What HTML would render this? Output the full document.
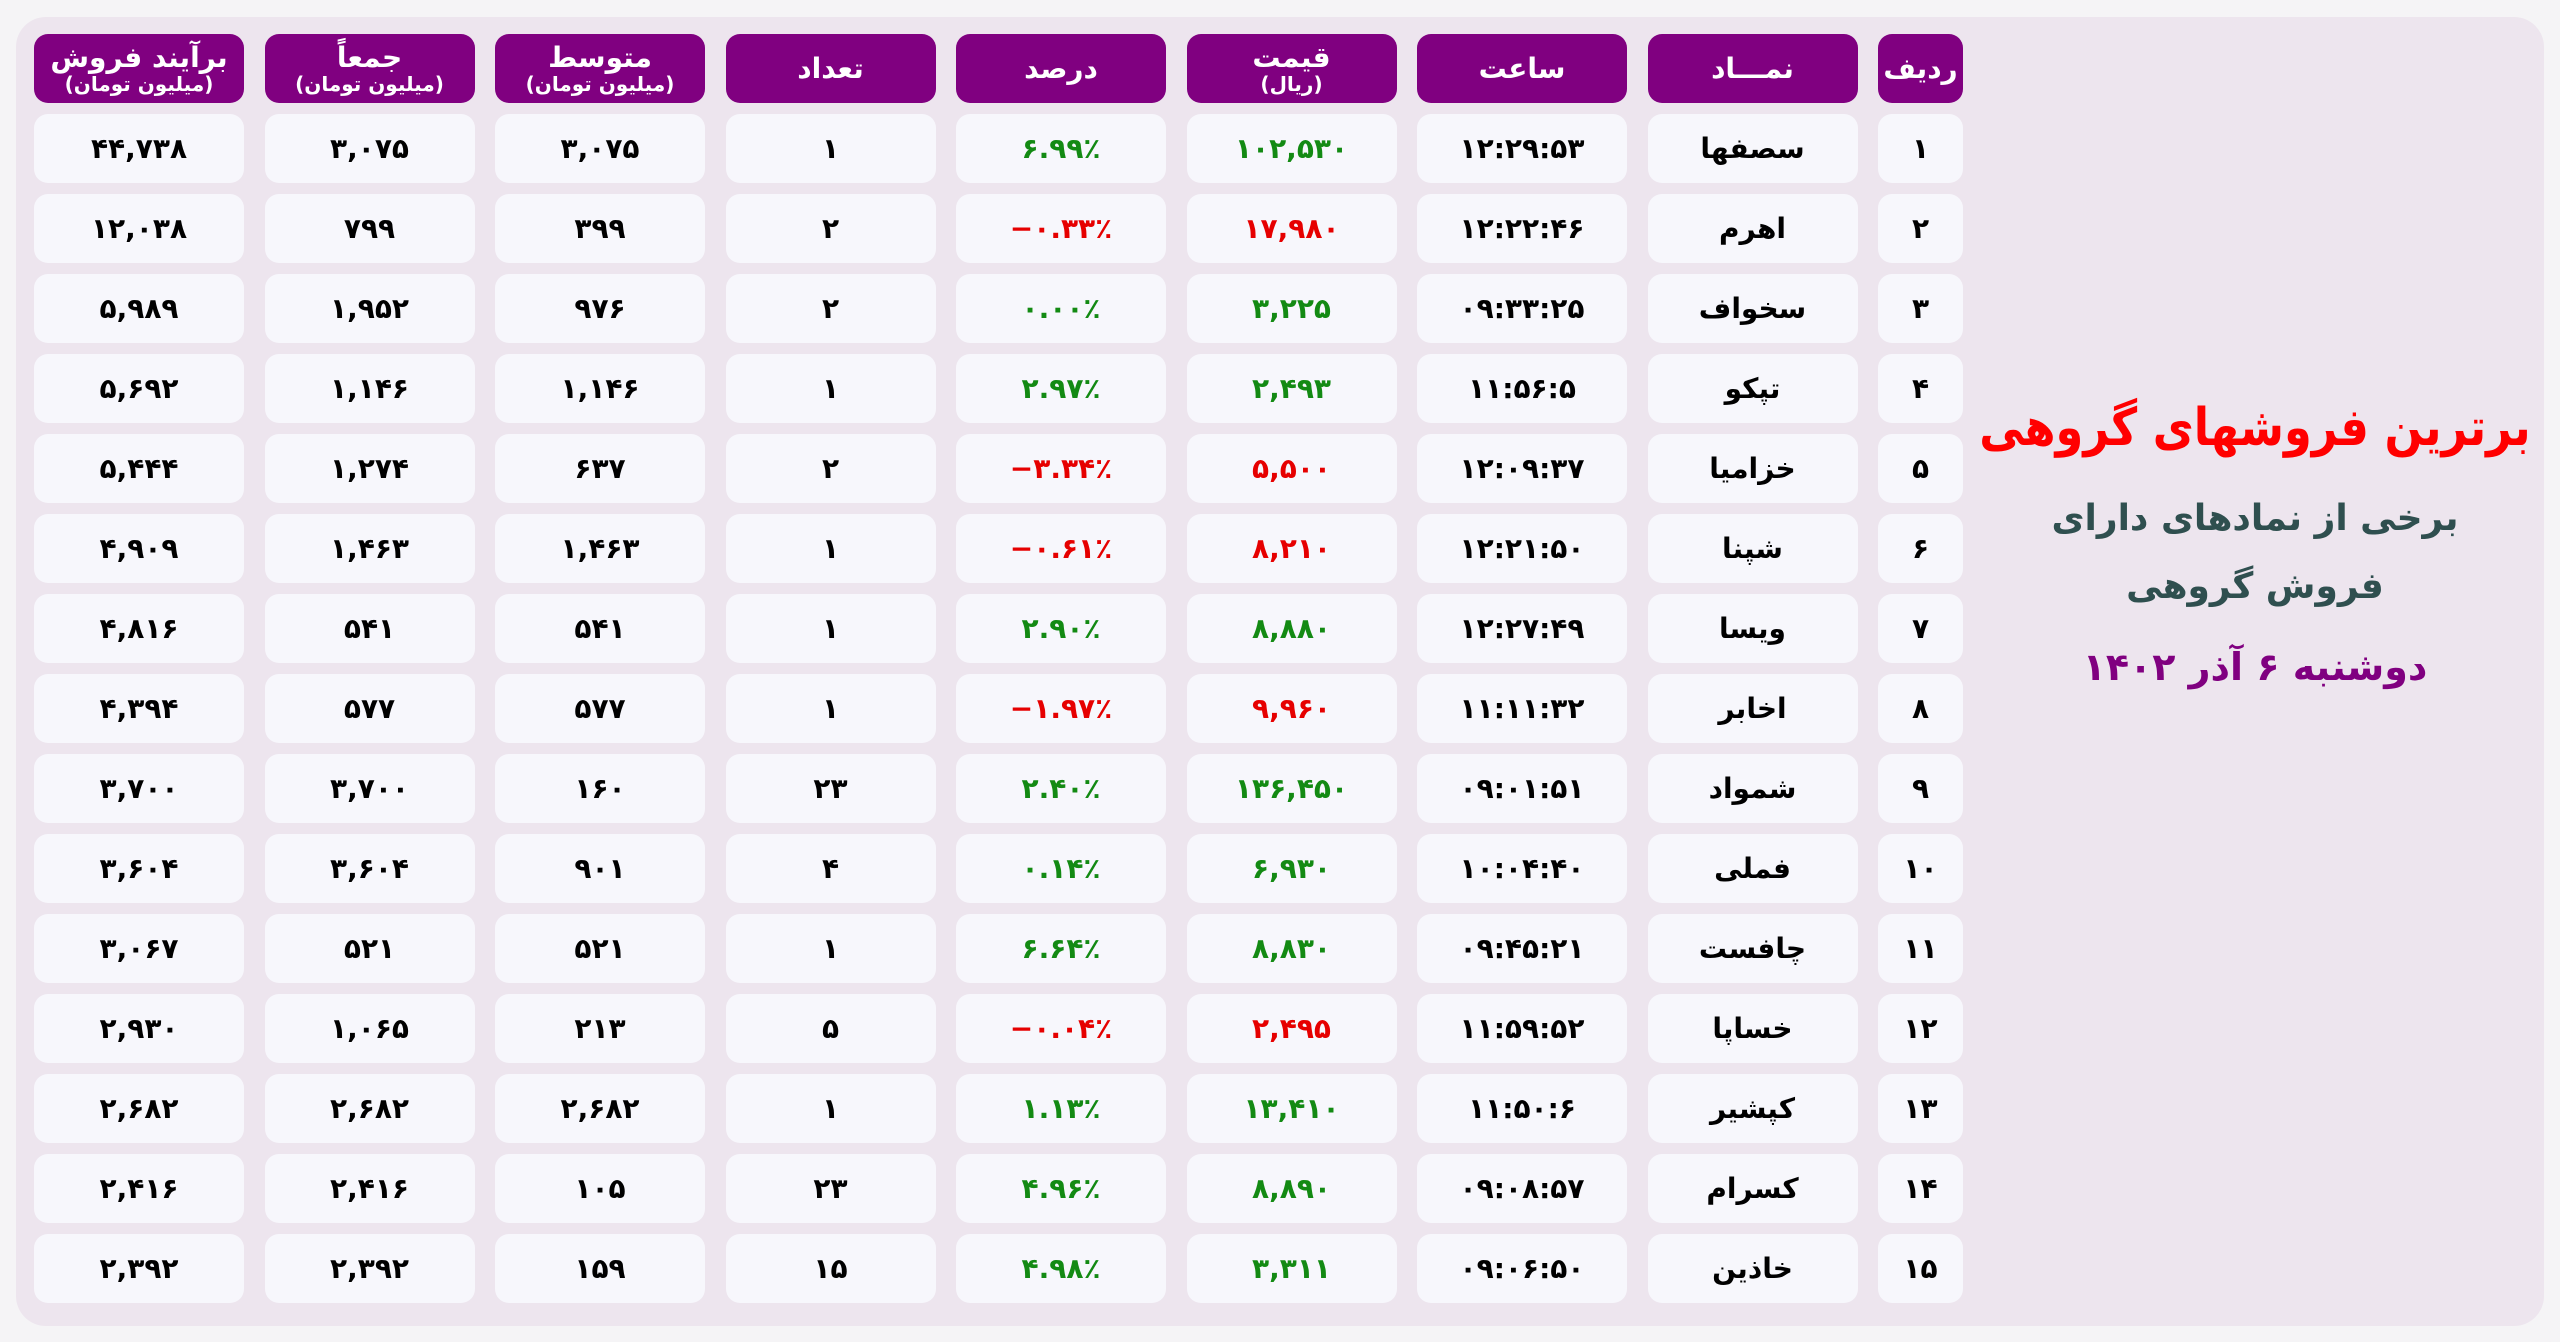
<!DOCTYPE html>
<html><head><meta charset="utf-8">
<style>
html,body{margin:0;padding:0;}
body{width:2560px;height:1342px;background:#f5f4f6;position:relative;overflow:hidden;font-family:"DejaVu Sans","Liberation Sans",sans-serif;}
.panel{position:absolute;left:16px;top:17px;width:2528px;height:1309px;background:#ede5ee;border-radius:30px;}
.grid{position:absolute;left:34px;top:34px;width:1929px;display:grid;direction:rtl;grid-template-columns:85px repeat(8,210px);column-gap:20.5px;grid-template-rows:repeat(16,69px);row-gap:11px;}
.grid div{background:#f7f7fc;border-radius:14px;display:flex;align-items:center;justify-content:center;font-weight:bold;font-size:28px;color:#000;text-align:center;}
.grid .h{background:#800080;color:#fff;font-size:28px;line-height:1;flex-direction:column;}
.grid .h small{font-size:20px;display:block;margin-top:2px;}
.grid .g{color:#138a13;}
.grid .r{color:#e60000;}
.side{position:absolute;left:1975px;width:560px;text-align:center;direction:rtl;font-weight:bold;white-space:nowrap;}
</style></head><body>
<div class="panel"></div>
<div class="grid">
<div class="h">ردیف</div><div class="h">نمـــاد</div><div class="h">ساعت</div><div class="h">قیمت<small>(ریال)</small></div><div class="h">درصد</div><div class="h">تعداد</div><div class="h">متوسط<small>(میلیون تومان)</small></div><div class="h">جمعاً<small>(میلیون تومان)</small></div><div class="h">برآیند فروش<small>(میلیون تومان)</small></div>

<div>۱</div><div>سصفها</div><div dir="ltr">۱۲:۲۹:۵۳</div><div class="g">۱۰۲,۵۳۰</div><div class="g" dir="ltr">۶.۹۹٪</div><div>۱</div><div>۳,۰۷۵</div><div>۳,۰۷۵</div><div>۴۴,۷۳۸</div>
<div>۲</div><div>اهرم</div><div dir="ltr">۱۲:۲۲:۴۶</div><div class="r">۱۷,۹۸۰</div><div class="r" dir="ltr">−۰.۳۳٪</div><div>۲</div><div>۳۹۹</div><div>۷۹۹</div><div>۱۲,۰۳۸</div>
<div>۳</div><div>سخواف</div><div dir="ltr">۰۹:۳۳:۲۵</div><div class="g">۳,۲۲۵</div><div class="g" dir="ltr">۰.۰۰٪</div><div>۲</div><div>۹۷۶</div><div>۱,۹۵۲</div><div>۵,۹۸۹</div>
<div>۴</div><div>تپکو</div><div dir="ltr">۱۱:۵۶:۵</div><div class="g">۲,۴۹۳</div><div class="g" dir="ltr">۲.۹۷٪</div><div>۱</div><div>۱,۱۴۶</div><div>۱,۱۴۶</div><div>۵,۶۹۲</div>
<div>۵</div><div>خزامیا</div><div dir="ltr">۱۲:۰۹:۳۷</div><div class="r">۵,۵۰۰</div><div class="r" dir="ltr">−۳.۳۴٪</div><div>۲</div><div>۶۳۷</div><div>۱,۲۷۴</div><div>۵,۴۴۴</div>
<div>۶</div><div>شپنا</div><div dir="ltr">۱۲:۲۱:۵۰</div><div class="r">۸,۲۱۰</div><div class="r" dir="ltr">−۰.۶۱٪</div><div>۱</div><div>۱,۴۶۳</div><div>۱,۴۶۳</div><div>۴,۹۰۹</div>
<div>۷</div><div>ویسا</div><div dir="ltr">۱۲:۲۷:۴۹</div><div class="g">۸,۸۸۰</div><div class="g" dir="ltr">۲.۹۰٪</div><div>۱</div><div>۵۴۱</div><div>۵۴۱</div><div>۴,۸۱۶</div>
<div>۸</div><div>اخابر</div><div dir="ltr">۱۱:۱۱:۳۲</div><div class="r">۹,۹۶۰</div><div class="r" dir="ltr">−۱.۹۷٪</div><div>۱</div><div>۵۷۷</div><div>۵۷۷</div><div>۴,۳۹۴</div>
<div>۹</div><div>شمواد</div><div dir="ltr">۰۹:۰۱:۵۱</div><div class="g">۱۳۶,۴۵۰</div><div class="g" dir="ltr">۲.۴۰٪</div><div>۲۳</div><div>۱۶۰</div><div>۳,۷۰۰</div><div>۳,۷۰۰</div>
<div>۱۰</div><div>فملی</div><div dir="ltr">۱۰:۰۴:۴۰</div><div class="g">۶,۹۳۰</div><div class="g" dir="ltr">۰.۱۴٪</div><div>۴</div><div>۹۰۱</div><div>۳,۶۰۴</div><div>۳,۶۰۴</div>
<div>۱۱</div><div>چافست</div><div dir="ltr">۰۹:۴۵:۲۱</div><div class="g">۸,۸۳۰</div><div class="g" dir="ltr">۶.۶۴٪</div><div>۱</div><div>۵۲۱</div><div>۵۲۱</div><div>۳,۰۶۷</div>
<div>۱۲</div><div>خساپا</div><div dir="ltr">۱۱:۵۹:۵۲</div><div class="r">۲,۴۹۵</div><div class="r" dir="ltr">−۰.۰۴٪</div><div>۵</div><div>۲۱۳</div><div>۱,۰۶۵</div><div>۲,۹۳۰</div>
<div>۱۳</div><div>کپشیر</div><div dir="ltr">۱۱:۵۰:۶</div><div class="g">۱۳,۴۱۰</div><div class="g" dir="ltr">۱.۱۳٪</div><div>۱</div><div>۲,۶۸۲</div><div>۲,۶۸۲</div><div>۲,۶۸۲</div>
<div>۱۴</div><div>کسرام</div><div dir="ltr">۰۹:۰۸:۵۷</div><div class="g">۸,۸۹۰</div><div class="g" dir="ltr">۴.۹۶٪</div><div>۲۳</div><div>۱۰۵</div><div>۲,۴۱۶</div><div>۲,۴۱۶</div>
<div>۱۵</div><div>خاذین</div><div dir="ltr">۰۹:۰۶:۵۰</div><div class="g">۳,۳۱۱</div><div class="g" dir="ltr">۴.۹۸٪</div><div>۱۵</div><div>۱۵۹</div><div>۲,۳۹۲</div><div>۲,۳۹۲</div>
</div>

<div class="side" style="left:1855px;width:800px;top:398px;font-size:52px;color:#ff0000;transform:scaleX(0.86);">برترین فروشهای گروهی</div>
<div class="side" style="top:498px;font-size:36px;color:#2f4f4f;">برخی از نمادهای دارای</div>
<div class="side" style="top:566px;font-size:36px;color:#2f4f4f;">فروش گروهی</div>
<div class="side" style="top:645px;font-size:38px;color:#800080;">دوشنبه ۶ آذر ۱۴۰۲</div>
</body></html>
